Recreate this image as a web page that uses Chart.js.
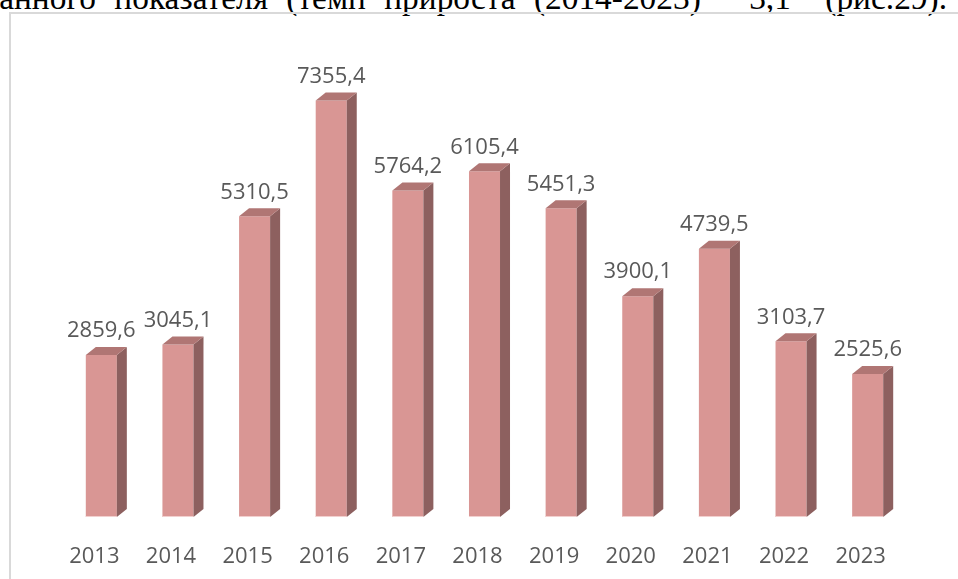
<!DOCTYPE html>
<html>
<head>
<meta charset="utf-8">
<script src="https://cdn.jsdelivr.net/npm/chart.js@4.4.1/dist/chart.umd.min.js"></script>
<style>
  html, body { margin: 0; padding: 0; background: #fff; overflow: hidden; }
  #page { position: relative; width: 958px; height: 579px; overflow: hidden; }
  #caption {
    position: absolute; right: 11px; top: -19px;
    font-family: "Liberation Serif", "Times New Roman", serif;
    font-size: 33.4px; line-height: 1; white-space: nowrap; color: #000;
    word-spacing: 10px;
  }
  #caption .g1 { margin-left: 30px; }
  #caption .g2 { margin-left: 16px; }
  #frame {
    position: absolute; left: 9px; top: 12px; width: 1000px; height: 700px;
    border-left: 2px solid #d9d9d9; border-top: 2px solid #d9d9d9;
  }
  #chart { position: absolute; left: 0; top: 0; }
</style>
</head>
<body>
<div id="page">
  <div id="caption">данного показателя (темп прироста (2014-2023) <span class="g1">3,1</span> <span class="g2">(рис.29).</span></div>
  <div id="frame"></div>
  <canvas id="chart" width="958" height="579"></canvas>
</div>
<script>
// --- data ---
const years = ['2013', '2014', '2015', '2016', '2017', '2018', '2019', '2020', '2021', '2022', '2023'];
const values = [2859.6, 3045.1, 5310.5, 7355.4, 5764.2, 6105.4, 5451.3, 3900.1, 4739.5, 3103.7, 2525.6];
const yMax = 8000;

const frontColor = '#D99694';
const sideColor = '#8D605F';
const topColor = '#B07674';
const textColor = '#595959';

// fake 3D: side and top faces drawn from the bar elements
const bars3d = {
    id: 'bars3d',
    afterDatasetsDraw(chart) {
        const ctx = chart.ctx;
        const meta = chart.getDatasetMeta(0);
        const dx = 10, dy = 8;
        ctx.save();
        meta.data.forEach((bar, i) => {
            const p = bar.getProps(['x', 'y', 'base', 'width'], true);
            const l = p.x - p.width / 2;
            const r = p.x + p.width / 2;

            // right side
            ctx.fillStyle = sideColor;
            ctx.beginPath();
            ctx.moveTo(r, p.y);
            ctx.lineTo(r + dx, p.y - dy);
            ctx.lineTo(r + dx, p.base - dy);
            ctx.lineTo(r, p.base);
            ctx.closePath();
            ctx.fill();

            // top
            ctx.fillStyle = topColor;
            ctx.beginPath();
            ctx.moveTo(l, p.y);
            ctx.lineTo(l + dx, p.y - dy);
            ctx.lineTo(r + dx, p.y - dy);
            ctx.lineTo(r, p.y);
            ctx.closePath();
            ctx.fill();

            // light bottom edge
            ctx.fillStyle = '#F2D0CF';
            ctx.fillRect(l, p.base - 1, p.width, 1);

            // value label
            ctx.fillStyle = textColor;
            ctx.font = '22px "Open Sans"';
            ctx.textAlign = 'center';
            ctx.textBaseline = 'middle';
            ctx.fillText(values[i].toFixed(1).replace('.', ','), p.x, p.y - 24);
        });
        ctx.restore();
    }
};

new Chart(document.getElementById('chart'), {
    type: 'bar',
    data: {
        labels: years,
        datasets: [{
            data: values,
            backgroundColor: frontColor,
            borderWidth: 0,
            categoryPercentage: 1,
            barPercentage: 0.405
        }]
    },
    options: {
        responsive: false,
        animation: false,
        layout: { padding: { left: 63, right: 52, top: 64, bottom: 0 } },
        plugins: {
            legend: { display: false },
            tooltip: { enabled: false }
        },
        scales: {
            y: { display: false, min: 0, max: yMax },
            x: {
                grid: { display: false, drawTicks: false },
                border: { display: false },
                ticks: {
                    color: textColor,
                    font: { family: 'Open Sans', size: 22 },
                    labelOffset: -7,
                    padding: 27,
                    maxRotation: 0
                },
                afterFit(scale) { scale.height = 62; }
            }
        }
    },
    plugins: [bars3d]
});
</script>
</body>
</html>
